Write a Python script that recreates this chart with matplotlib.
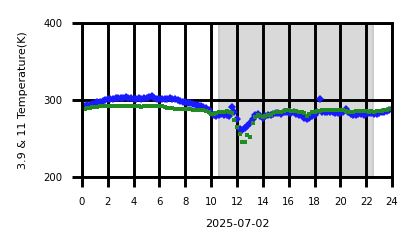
import numpy as np
import matplotlib
matplotlib.use("Agg")
import matplotlib.pyplot as plt

# hours of day, sampled every 0.2 h
hours = np.arange(0, 24.01, 0.2)

temp_39 = [
    290, 292, 293, 294, 295, 296,
    297, 298, 299, 300, 301,
    302, 302, 303, 303, 303,
    303, 304, 303, 303, 302,
    302, 303, 302, 303, 303,
    304, 305, 303, 302, 301,
    301, 301, 302, 303, 302,
    301, 300, 299, 298, 297,
    296, 296, 295, 294, 293,
    292, 291, 290, 287, 283,
    280, 279, 281, 282, 281,
    280, 279, 291, 284, 275,
    263, 261, 264, 266, 270,
    276, 280, 282, 279, 277,
    279, 281, 280, 282, 283,
    283, 282, 284, 284, 283,
    283, 284, 282, 281, 280,
    277, 276, 277, 279, 280,
    284, 301, 285, 284, 284,
    284, 284, 283, 283, 283,
    284, 289, 284, 282, 281,
    281, 282, 282, 281, 282,
    283, 283, 282, 282, 283,
    284, 285, 286, 287, 288,
]

temp_11 = [
    289, 289, 290, 290, 291, 291,
    291, 292, 292, 292, 292,
    292, 292, 292, 292, 292,
    292, 292, 292, 292, 292,
    292, 292, 291, 292, 292,
    292, 292, 292, 292, 292,
    292, 291, 290, 290, 290,
    289, 289, 288, 288, 288,
    288, 288, 287, 287, 287,
    287, 287, 286, 284, 282,
    282, 283, 284, 285, 285,
    286, 285, 283, 274, 265,
    256, 245, 245, 254, 252,
    270, 278, 281, 279, 278,
    279, 280, 281, 283, 284,
    285, 285, 286, 287, 287,
    286, 286, 286, 285, 285,
    283, 279, 282, 285, 285,
    286, 286, 287, 287, 287,
    287, 287, 287, 287, 287,
    287, 286, 285, 285, 285,
    286, 286, 286, 286, 286,
    285, 286, 285, 286, 286,
    286, 287, 287, 288, 288,
]

shade_span = (10.5, 22.6)
x_ticks = list(range(0, 25, 2))
y_ticks = [200, 300, 400]

fig = plt.figure(figsize=(4.18, 2.48), dpi=100)
ax = fig.add_axes([0.196, 0.286, 0.742, 0.621])

ax.axvspan(*shade_span, color="#d9d9d9", lw=0, zorder=0)
ax.axvspan(shade_span[0], shade_span[0] + 0.15, color="#cccccc", lw=0, zorder=0)
ax.axvspan(shade_span[1] - 0.15, shade_span[1], color="#cccccc", lw=0, zorder=0)

ax.plot(hours, temp_39, ls="none", marker="D", ms=3.6, mew=0, color="#1a1aff", zorder=3)
ax.plot(hours, temp_11, ls="none", marker="s", ms=3.4, mew=0, color="#228b22", zorder=4)

ax.set_xlim(0, 24)
ax.set_ylim(200, 400)
ax.set_xticks(x_ticks)
ax.set_yticks(y_ticks)
ax.grid(True, color="black", lw=2.1, zorder=2)
ax.set_axisbelow(False)
for s in ax.spines.values():
    s.set_linewidth(2.1)
    s.set_zorder(5)

ax.tick_params(axis="both", direction="out", length=7, width=2.1, labelsize=7.3, pad=7)
ax.set_xlabel("2025-07-02", fontsize=8, labelpad=9)
ax.set_ylabel("3.9 & 11 Temperature(K)", fontsize=8, labelpad=11)

fig.savefig("out.png", dpi=100)
